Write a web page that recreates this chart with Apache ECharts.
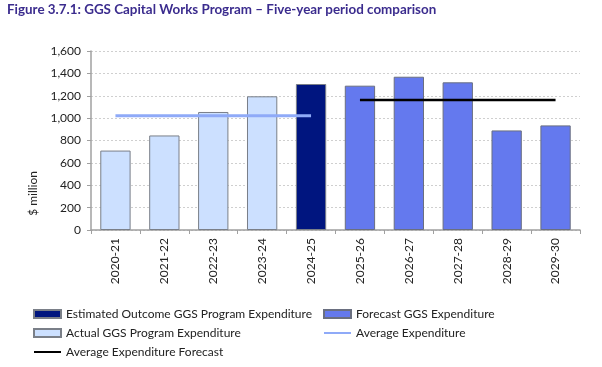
<!DOCTYPE html>
<html><head><meta charset="utf-8">
<script src="https://cdn.jsdelivr.net/npm/echarts@6/dist/echarts.min.js"></script>
<style>html,body{margin:0;padding:0;background:#fff}#c{width:602px;height:367px}</style>
</head><body><div id="c"></div>
<script>
const categories = ['2020-21','2021-22','2022-23','2023-24','2024-25','2025-26','2026-27','2027-28','2028-29','2029-30'];
const actual = [710, 845, 1055, 1195, null, null, null, null, null, null];
const estimated = [null, null, null, null, 1305, null, null, null, null, null];
const forecast = [null, null, null, null, null, 1290, 1370, 1320, 890, 935];
const avgActual = [1022, 1022, 1022, 1022, 1022, null, null, null, null, null];
const avgForecast = [null, null, null, null, null, 1161, 1161, 1161, 1161, 1161];
const yTicks = [0, 200, 400, 600, 800, 1000, 1200, 1400, 1600];

const FONT = 'Lato';
const chart = echarts.init(document.getElementById('c'), null, {renderer: 'canvas'});
const barBase = {type: 'bar', stack: 's', barWidth: '62%'};
const legendText = {fontSize: 12, color: '#222', fontFamily: FONT, lineHeight: 14};
const hiddenSym = {opacity: 0};
chart.setOption({
  animation: false,
  textStyle: {fontFamily: FONT},
  title: {text: 'Figure 3.7.1: GGS Capital Works Program \u2013 Five-year period comparison', left: 7, top: 3, padding: 0,
    textStyle: {fontFamily: FONT, fontSize: 13.4, fontWeight: 'bold', color: '#3b2c8e'}},
  grid: {left: 91, right: 22, top: 51, bottom: 137},
  xAxis: {type: 'category', data: categories,
    axisLine: {lineStyle: {color: '#a0a0a0', width: 1.5}},
    axisTick: {show: true, interval: 0, length: 4, lineStyle: {color: '#a0a0a0'}},
    axisLabel: {rotate: 90, margin: 8, fontSize: 12, color: '#222', fontFamily: FONT, interval: 0}},
  yAxis: {type: 'value', min: yTicks[0], max: yTicks[yTicks.length-1], interval: 200,
    axisLine: {show: true, lineStyle: {color: '#a0a0a0', width: 1.5}},
    axisTick: {show: true, length: 4, lineStyle: {color: '#a0a0a0'}},
    splitLine: {lineStyle: {color: '#cfcfcf', type: [2, 2]}},
    axisLabel: {fontSize: 12, color: '#222', fontFamily: FONT, margin: 10,
      formatter: v => v.toLocaleString('en-US')}},
  legend: [
    {left: 33, top: 307, padding: 0, orient: 'vertical', height: 60, itemWidth: 27, itemHeight: 8, itemGap: 5,
      textStyle: legendText,
      data: [{name: 'Estimated Outcome GGS Program Expenditure', icon: 'rect'},
        {name: 'Actual GGS Program Expenditure', icon: 'rect'},
        {name: 'Average Expenditure Forecast', itemStyle: hiddenSym}]},
    {left: 323, top: 307, padding: 0, orient: 'vertical', height: 60, itemWidth: 27, itemHeight: 8, itemGap: 5,
      textStyle: legendText,
      data: [{name: 'Forecast GGS Expenditure', icon: 'rect'}, {name: 'Average Expenditure', itemStyle: hiddenSym}]}
  ],
  graphic: [{type: 'text', left: 27, top: 171, rotation: Math.PI/2,
    style: {text: '$ million', fontSize: 12, fontFamily: FONT, fill: '#222'}}],
  series: [
    Object.assign({}, barBase, {name: 'Actual GGS Program Expenditure', data: actual, itemStyle: {color: '#cce0ff', borderColor: '#7a7f88', borderWidth: 1}}),
    Object.assign({}, barBase, {name: 'Estimated Outcome GGS Program Expenditure', data: estimated, itemStyle: {color: '#00157f', borderColor: '#7a7f88', borderWidth: 1}}),
    Object.assign({}, barBase, {name: 'Forecast GGS Expenditure', data: forecast, itemStyle: {color: '#6479ee', borderColor: '#6a6f80', borderWidth: 1}}),
    {type: 'line', name: 'Average Expenditure', data: avgActual, symbol: 'none', z: 5,
      lineStyle: {color: '#8faaf8', width: 3}, itemStyle: {color: '#8faaf8'}},
    {type: 'line', name: 'Average Expenditure Forecast', data: avgForecast, symbol: 'none', z: 5,
      lineStyle: {color: '#000', width: 2.5}, itemStyle: {color: '#000'}}
  ]
});
</script></body></html>
